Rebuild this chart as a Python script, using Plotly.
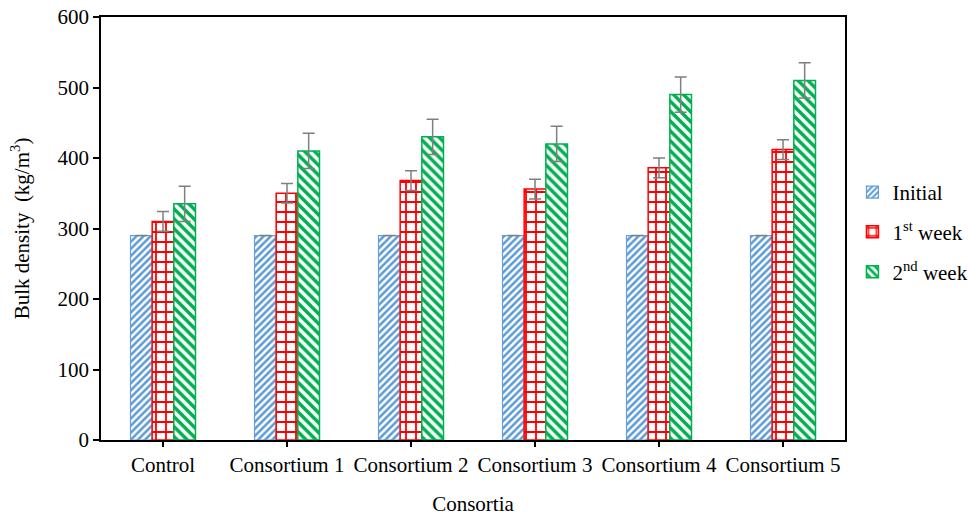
import plotly.graph_objects as go

categories = ["Control", "Consortium 1", "Consortium 2", "Consortium 3", "Consortium 4", "Consortium 5"]
initial = [290, 290, 290, 290, 290, 290]
initial_err = [0, 0, 0, 0, 0, 0]
week1 = [310, 350, 368, 356, 386, 412]
week1_err = [14, 14, 14, 14, 14, 14]
week2 = [335, 410, 430, 420, 490, 510]
week2_err = [25, 25, 25, 25, 25, 25]

FONT = "Liberation Serif, Times New Roman, serif"
FS = 21
ERR = dict(type="data", thickness=1.5, width=6, color="#7f7f7f")

fig = go.Figure()
fig.add_trace(go.Bar(
    x=categories, y=initial, name="Initial", legendgroup="a",
    error_y=dict(array=initial_err, **ERR),
    marker=dict(color="white", line=dict(color="#6a9fd8", width=1.2),
                pattern=dict(shape="/", fgcolor="#5b9bd5", bgcolor="white", size=5, solidity=0.5)),
))
fig.add_trace(go.Bar(
    x=categories, y=week1, name="1<sup>st</sup> week", legendgroup="b",
    error_y=dict(array=week1_err, **ERR),
    marker=dict(color="white", line=dict(color="#ff0000", width=1.5),
                pattern=dict(shape="+", fgcolor="#ff0000", bgcolor="white", size=10, solidity=0.33)),
))
fig.add_trace(go.Bar(
    x=categories, y=week2, name="2<sup>nd</sup> week", legendgroup="c",
    error_y=dict(array=week2_err, **ERR),
    marker=dict(color="white", line=dict(color="#00b050", width=1.5),
                pattern=dict(shape="\\", fgcolor="#00b050", bgcolor="white", size=7, solidity=0.5)),
))

fig.update_layout(
    template="none",
    width=970, height=516,
    margin=dict(l=101, r=125, t=17, b=76, autoexpand=False),
    barmode="group", bargap=0.476, bargroupgap=0,
    plot_bgcolor="white", paper_bgcolor="white",
    font=dict(family=FONT, size=FS, color="black"),
    legend=dict(x=1.01, y=0.492, xanchor="left", yanchor="middle",
                font=dict(family=FONT, size=FS), traceorder="grouped", tracegroupgap=9.5,
                bgcolor="rgba(0,0,0,0)"),
    xaxis=dict(
        title=dict(text="Consortia", font=dict(family=FONT, size=FS), standoff=20),
        showline=True, linecolor="black", linewidth=1.5, mirror=True,
        ticks="outside", ticklen=5, tickcolor="black", tickwidth=1.5,
        tickfont=dict(family=FONT, size=FS), showgrid=False, automargin=False,
    ),
    yaxis=dict(
        title=dict(text="Bulk density  (kg/m<sup>3</sup>)", font=dict(family=FONT, size=FS), standoff=22),
        range=[0, 600], tickvals=[0, 100, 200, 300, 400, 500, 600],
        showline=True, linecolor="black", linewidth=1.5, mirror=True,
        ticks="outside", ticklen=6, tickcolor="black", tickwidth=1.5,
        tickfont=dict(family=FONT, size=FS), showgrid=False, zeroline=False, automargin=False,
    ),
)

fig.write_html("out.html", config={"displayModeBar": False},
               post_script="document.body.style.margin='0';")
